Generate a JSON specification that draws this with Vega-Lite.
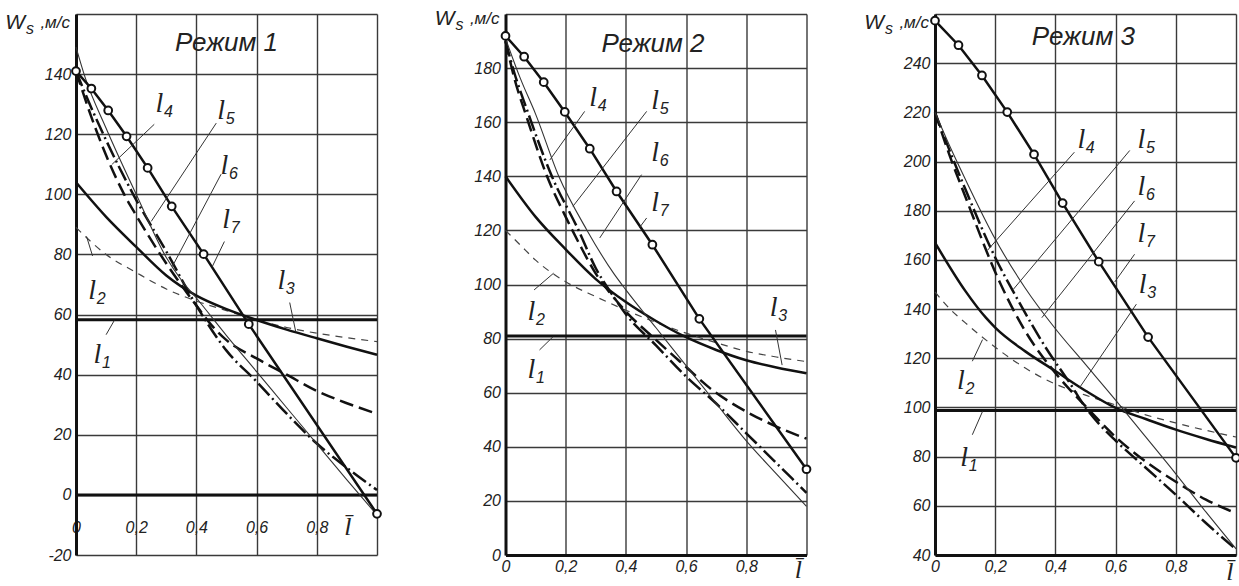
{
  "$schema": "https://vega.github.io/schema/vega-lite/v6.json",
  "background": "white",
  "padding": {"left": 5, "top": 6, "right": 0, "bottom": 0},
  "config": {"view": {"stroke": null}, "axis": {"gridOpacity": 1}},
  "datasets": {
    "curves": [
      {"p":1,"c":"l1","x":0,"v":58.3},{"p":1,"c":"l1","x":1,"v":58.3},
      {"p":1,"c":"l2","x":0,"v":89},{"p":1,"c":"l2","x":0.1,"v":80},{"p":1,"c":"l2","x":0.2,"v":74},{"p":1,"c":"l2","x":0.3,"v":68.5},{"p":1,"c":"l2","x":0.4,"v":64.5},{"p":1,"c":"l2","x":0.5,"v":61.3},{"p":1,"c":"l2","x":0.6,"v":58.2},{"p":1,"c":"l2","x":0.7,"v":55.7},{"p":1,"c":"l2","x":0.8,"v":53.8},{"p":1,"c":"l2","x":0.9,"v":52.3},{"p":1,"c":"l2","x":1,"v":51},
      {"p":1,"c":"l3","x":0,"v":104},{"p":1,"c":"l3","x":0.1,"v":92.5},{"p":1,"c":"l3","x":0.2,"v":82.5},{"p":1,"c":"l3","x":0.3,"v":73},{"p":1,"c":"l3","x":0.4,"v":66.3},{"p":1,"c":"l3","x":0.5,"v":61.8},{"p":1,"c":"l3","x":0.6,"v":58.2},{"p":1,"c":"l3","x":0.7,"v":55},{"p":1,"c":"l3","x":0.8,"v":52.1},{"p":1,"c":"l3","x":0.9,"v":49.3},{"p":1,"c":"l3","x":1,"v":46.6},
      {"p":1,"c":"l4","x":0,"v":141},{"p":1,"c":"l4","x":0.05,"v":126},{"p":1,"c":"l4","x":0.1,"v":113},{"p":1,"c":"l4","x":0.16,"v":100},{"p":1,"c":"l4","x":0.2,"v":93},{"p":1,"c":"l4","x":0.3,"v":77},{"p":1,"c":"l4","x":0.4,"v":63},{"p":1,"c":"l4","x":0.45,"v":56.5},{"p":1,"c":"l4","x":0.5,"v":51.5},{"p":1,"c":"l4","x":0.6,"v":45.4},{"p":1,"c":"l4","x":0.7,"v":40},{"p":1,"c":"l4","x":0.8,"v":34.6},{"p":1,"c":"l4","x":0.9,"v":30.5},{"p":1,"c":"l4","x":1,"v":27},
      {"p":1,"c":"l5","x":0,"v":141},{"p":1,"c":"l5","x":0.05,"v":129},{"p":1,"c":"l5","x":0.1,"v":118},{"p":1,"c":"l5","x":0.19,"v":100},{"p":1,"c":"l5","x":0.3,"v":81},{"p":1,"c":"l5","x":0.4,"v":63},{"p":1,"c":"l5","x":0.5,"v":48},{"p":1,"c":"l5","x":0.6,"v":37.7},{"p":1,"c":"l5","x":0.7,"v":27},{"p":1,"c":"l5","x":0.8,"v":17.1},{"p":1,"c":"l5","x":0.9,"v":9},{"p":1,"c":"l5","x":1,"v":1.6},
      {"p":1,"c":"l6","x":0,"v":149},{"p":1,"c":"l6","x":0.03,"v":139},{"p":1,"c":"l6","x":0.1,"v":122},{"p":1,"c":"l6","x":0.2,"v":100},{"p":1,"c":"l6","x":0.3,"v":79},{"p":1,"c":"l6","x":0.35,"v":71.5},{"p":1,"c":"l6","x":0.4,"v":65.5},{"p":1,"c":"l6","x":0.5,"v":53},{"p":1,"c":"l6","x":0.6,"v":41},{"p":1,"c":"l6","x":0.7,"v":29},{"p":1,"c":"l6","x":0.8,"v":17},{"p":1,"c":"l6","x":0.9,"v":5},{"p":1,"c":"l6","x":1,"v":-6.7},
      {"p":1,"c":"l7","x":0,"v":141},{"p":1,"c":"l7","x":0.051,"v":135.2},{"p":1,"c":"l7","x":0.107,"v":127.9},{"p":1,"c":"l7","x":0.168,"v":119.3},{"p":1,"c":"l7","x":0.238,"v":108.8},{"p":1,"c":"l7","x":0.318,"v":96},{"p":1,"c":"l7","x":0.424,"v":80.1},{"p":1,"c":"l7","x":0.574,"v":56.8},{"p":1,"c":"l7","x":1,"v":-6.3},

      {"p":2,"c":"l1","x":0,"v":81},{"p":2,"c":"l1","x":1,"v":81},
      {"p":2,"c":"l2","x":0,"v":120},{"p":2,"c":"l2","x":0.05,"v":114.5},{"p":2,"c":"l2","x":0.1,"v":109},{"p":2,"c":"l2","x":0.2,"v":101},{"p":2,"c":"l2","x":0.3,"v":95.5},{"p":2,"c":"l2","x":0.4,"v":90.5},{"p":2,"c":"l2","x":0.5,"v":86},{"p":2,"c":"l2","x":0.6,"v":82},{"p":2,"c":"l2","x":0.7,"v":78.5},{"p":2,"c":"l2","x":0.8,"v":75.3},{"p":2,"c":"l2","x":0.9,"v":73.2},{"p":2,"c":"l2","x":1,"v":71.5},
      {"p":2,"c":"l3","x":0,"v":140},{"p":2,"c":"l3","x":0.1,"v":125},{"p":2,"c":"l3","x":0.2,"v":113},{"p":2,"c":"l3","x":0.3,"v":102},{"p":2,"c":"l3","x":0.4,"v":93.5},{"p":2,"c":"l3","x":0.5,"v":86.5},{"p":2,"c":"l3","x":0.6,"v":80.5},{"p":2,"c":"l3","x":0.7,"v":75.8},{"p":2,"c":"l3","x":0.8,"v":72},{"p":2,"c":"l3","x":0.9,"v":69.3},{"p":2,"c":"l3","x":1,"v":67.2},
      {"p":2,"c":"l4","x":0,"v":190},{"p":2,"c":"l4","x":0.03,"v":176},{"p":2,"c":"l4","x":0.07,"v":162},{"p":2,"c":"l4","x":0.138,"v":140},{"p":2,"c":"l4","x":0.2,"v":125},{"p":2,"c":"l4","x":0.25,"v":114},{"p":2,"c":"l4","x":0.3,"v":104},{"p":2,"c":"l4","x":0.35,"v":96.5},{"p":2,"c":"l4","x":0.4,"v":90},{"p":2,"c":"l4","x":0.5,"v":79.5},{"p":2,"c":"l4","x":0.6,"v":69.5},{"p":2,"c":"l4","x":0.68,"v":61.6},{"p":2,"c":"l4","x":0.8,"v":53},{"p":2,"c":"l4","x":0.9,"v":47.5},{"p":2,"c":"l4","x":1,"v":43},
      {"p":2,"c":"l5","x":0,"v":190},{"p":2,"c":"l5","x":0.03,"v":178},{"p":2,"c":"l5","x":0.07,"v":165},{"p":2,"c":"l5","x":0.154,"v":140},{"p":2,"c":"l5","x":0.243,"v":120},{"p":2,"c":"l5","x":0.3,"v":106},{"p":2,"c":"l5","x":0.35,"v":97},{"p":2,"c":"l5","x":0.4,"v":89},{"p":2,"c":"l5","x":0.5,"v":77.5},{"p":2,"c":"l5","x":0.6,"v":66},{"p":2,"c":"l5","x":0.7,"v":56},{"p":2,"c":"l5","x":0.8,"v":45},{"p":2,"c":"l5","x":0.9,"v":34},{"p":2,"c":"l5","x":1,"v":23},
      {"p":2,"c":"l6","x":0,"v":191},{"p":2,"c":"l6","x":0.05,"v":176},{"p":2,"c":"l6","x":0.1,"v":163},{"p":2,"c":"l6","x":0.177,"v":140},{"p":2,"c":"l6","x":0.271,"v":120},{"p":2,"c":"l6","x":0.36,"v":104},{"p":2,"c":"l6","x":0.4,"v":98},{"p":2,"c":"l6","x":0.5,"v":84},{"p":2,"c":"l6","x":0.6,"v":70},{"p":2,"c":"l6","x":0.7,"v":56},{"p":2,"c":"l6","x":0.8,"v":42.2},{"p":2,"c":"l6","x":0.9,"v":30},{"p":2,"c":"l6","x":1,"v":18},
      {"p":2,"c":"l7","x":0,"v":191.9},{"p":2,"c":"l7","x":0.062,"v":184.2},{"p":2,"c":"l7","x":0.127,"v":174.8},{"p":2,"c":"l7","x":0.197,"v":163.8},{"p":2,"c":"l7","x":0.28,"v":150.2},{"p":2,"c":"l7","x":0.369,"v":134.4},{"p":2,"c":"l7","x":0.488,"v":114.7},{"p":2,"c":"l7","x":0.644,"v":87.3},{"p":2,"c":"l7","x":1,"v":31.7},

      {"p":3,"c":"l1","x":0,"v":98.8},{"p":3,"c":"l1","x":1,"v":98.8},
      {"p":3,"c":"l2","x":0,"v":147},{"p":3,"c":"l2","x":0.05,"v":140},{"p":3,"c":"l2","x":0.1,"v":134.5},{"p":3,"c":"l2","x":0.2,"v":124.5},{"p":3,"c":"l2","x":0.3,"v":116},{"p":3,"c":"l2","x":0.4,"v":109.5},{"p":3,"c":"l2","x":0.5,"v":105},{"p":3,"c":"l2","x":0.6,"v":101},{"p":3,"c":"l2","x":0.7,"v":97},{"p":3,"c":"l2","x":0.8,"v":93.7},{"p":3,"c":"l2","x":0.9,"v":90.7},{"p":3,"c":"l2","x":1,"v":88},
      {"p":3,"c":"l3","x":0,"v":167},{"p":3,"c":"l3","x":0.1,"v":147.5},{"p":3,"c":"l3","x":0.169,"v":136.5},{"p":3,"c":"l3","x":0.2,"v":132.5},{"p":3,"c":"l3","x":0.3,"v":122.8},{"p":3,"c":"l3","x":0.4,"v":114.8},{"p":3,"c":"l3","x":0.5,"v":106.8},{"p":3,"c":"l3","x":0.6,"v":99.8},{"p":3,"c":"l3","x":0.7,"v":95.3},{"p":3,"c":"l3","x":0.8,"v":91},{"p":3,"c":"l3","x":0.9,"v":87.2},{"p":3,"c":"l3","x":1,"v":83.7},
      {"p":3,"c":"l4","x":0,"v":220},{"p":3,"c":"l4","x":0.05,"v":202},{"p":3,"c":"l4","x":0.1,"v":186},{"p":3,"c":"l4","x":0.216,"v":150.7},{"p":3,"c":"l4","x":0.3,"v":131},{"p":3,"c":"l4","x":0.4,"v":114},{"p":3,"c":"l4","x":0.5,"v":100.5},{"p":3,"c":"l4","x":0.6,"v":88},{"p":3,"c":"l4","x":0.7,"v":78},{"p":3,"c":"l4","x":0.8,"v":69.8},{"p":3,"c":"l4","x":0.9,"v":62.5},{"p":3,"c":"l4","x":1,"v":57},
      {"p":3,"c":"l5","x":0,"v":220},{"p":3,"c":"l5","x":0.05,"v":204},{"p":3,"c":"l5","x":0.1,"v":189},{"p":3,"c":"l5","x":0.2,"v":161},{"p":3,"c":"l5","x":0.271,"v":144.7},{"p":3,"c":"l5","x":0.365,"v":124.9},{"p":3,"c":"l5","x":0.45,"v":109.5},{"p":3,"c":"l5","x":0.5,"v":100},{"p":3,"c":"l5","x":0.547,"v":93},{"p":3,"c":"l5","x":0.6,"v":86.5},{"p":3,"c":"l5","x":0.7,"v":75.5},{"p":3,"c":"l5","x":0.8,"v":64.5},{"p":3,"c":"l5","x":0.9,"v":53},{"p":3,"c":"l5","x":1,"v":42.3},
      {"p":3,"c":"l6","x":0,"v":220},{"p":3,"c":"l6","x":0.05,"v":206},{"p":3,"c":"l6","x":0.1,"v":193},{"p":3,"c":"l6","x":0.2,"v":168.5},{"p":3,"c":"l6","x":0.3,"v":148.5},{"p":3,"c":"l6","x":0.4,"v":132},{"p":3,"c":"l6","x":0.5,"v":117.5},{"p":3,"c":"l6","x":0.6,"v":103},{"p":3,"c":"l6","x":0.7,"v":88},{"p":3,"c":"l6","x":0.8,"v":73},{"p":3,"c":"l6","x":0.9,"v":57.5},{"p":3,"c":"l6","x":1,"v":42.5},
      {"p":3,"c":"l7","x":0,"v":257.3},{"p":3,"c":"l7","x":0.078,"v":247.3},{"p":3,"c":"l7","x":0.156,"v":235},{"p":3,"c":"l7","x":0.24,"v":220.1},{"p":3,"c":"l7","x":0.329,"v":202.9},{"p":3,"c":"l7","x":0.424,"v":183.1},{"p":3,"c":"l7","x":0.544,"v":159.3},{"p":3,"c":"l7","x":0.708,"v":128.6},{"p":3,"c":"l7","x":1,"v":79.5}
    ],
    "lbl": [
      {"p":1,"n":"4","x":0.277,"v":129.9},{"p":1,"n":"5","x":0.482,"v":127.7},{"p":1,"n":"6","x":0.493,"v":109.3},{"p":1,"n":"7","x":0.499,"v":91.6},{"p":1,"n":"3","x":0.682,"v":71},{"p":1,"n":"2","x":0.054,"v":67.7},{"p":1,"n":"1","x":0.071,"v":46.6},
      {"p":2,"n":"4","x":0.291,"v":169},{"p":2,"n":"5","x":0.497,"v":167.8},{"p":2,"n":"6","x":0.497,"v":148.6},{"p":2,"n":"7","x":0.497,"v":130.1},{"p":2,"n":"3","x":0.891,"v":91.2},{"p":2,"n":"2","x":0.086,"v":90},{"p":2,"n":"1","x":0.086,"v":68.4},
      {"p":3,"n":"4","x":0.486,"v":208.6},{"p":3,"n":"5","x":0.686,"v":208.6},{"p":3,"n":"6","x":0.686,"v":189.5},{"p":3,"n":"7","x":0.686,"v":170.5},{"p":3,"n":"3","x":0.69,"v":150},{"p":3,"n":"2","x":0.086,"v":110.6},{"p":3,"n":"1","x":0.097,"v":79.3}
    ],
    "ldr": [
      {"p":1,"x":0.26,"v":123.3,"x2":0.12,"v2":110},{"p":1,"x":0.466,"v":123.7,"x2":0.25,"v2":91},{"p":1,"x":0.482,"v":106.7,"x2":0.32,"v2":76},{"p":1,"x":0.493,"v":84.3,"x2":0.453,"v2":76},{"p":1,"x":0.71,"v":64,"x2":0.73,"v2":54.3},{"p":1,"x":0.055,"v":79.5,"x2":0.035,"v2":86},{"p":1,"x":0.1,"v":53.3,"x2":0.127,"v2":58},
      {"p":2,"x":0.263,"v":164,"x2":0.147,"v2":146},{"p":2,"x":0.469,"v":164,"x2":0.224,"v2":128.9},{"p":2,"x":0.452,"v":140.6,"x2":0.313,"v2":117.2},{"p":2,"x":0.469,"v":124.6,"x2":0.445,"v2":121},{"p":2,"x":0.897,"v":83.2,"x2":0.919,"v2":70.2},{"p":2,"x":0.095,"v":98,"x2":0.16,"v2":104.2},{"p":2,"x":0.113,"v":75.8,"x2":0.158,"v2":80.7},
      {"p":3,"x":0.463,"v":203.8,"x2":0.175,"v2":164},{"p":3,"x":0.647,"v":204.5,"x2":0.26,"v2":148},{"p":3,"x":0.663,"v":184,"x2":0.355,"v2":136.5},{"p":3,"x":0.663,"v":162.3,"x2":0.597,"v2":151},{"p":3,"x":0.669,"v":142,"x2":0.48,"v2":108},{"p":3,"x":0.124,"v":118.8,"x2":0.158,"v2":127.6},{"p":3,"x":0.124,"v":88.9,"x2":0.158,"v2":98.4}
    ],
    "ttl": [
      {"p":1,"t":"Режим 1","x":0.5,"v":150.3},{"p":2,"t":"Режим 2","x":0.49,"v":189},{"p":3,"t":"Режим 3","x":0.493,"v":250.7}
    ],
    "wl": [
      {"p":1,"x":0,"v":157},{"p":2,"x":0,"v":198},{"p":3,"x":0,"v":256.5}
    ],
    "lb": [
      {"p":1,"x":0.903,"v":-10.7},{"p":2,"x":0.973,"v":-5.6},{"p":3,"x":0.98,"v":33}
    ]
  },
  "hconcat": [
    {
      "width": 301, "height": 541,
      "layer": [
        {"data": {"name": "curves"}, "transform": [{"filter": "datum.p == 1 && datum.c == 'l1'"}],
         "mark": {"type": "line", "strokeWidth": 3, "color": "#111"},
         "encoding": {
           "x": {"field": "x", "type": "quantitative", "scale": {"domain": [0, 1], "nice": false, "zero": false},
                 "axis": {"values": [0, 0.2, 0.4, 0.6, 0.8, 1], "grid": true, "gridColor": "#3a3a3a", "gridWidth": 1.4, "domain": false, "ticks": false, "offset": -38, "labelFlush": false, "labelOverlap": false, "labelBound": false, "labelPadding": 2, "labelFont": "Liberation Sans", "labelFontStyle": "italic", "labelFontSize": 16, "labelColor": "#222", "labelExpr": "datum.value == 1 ? '' : datum.value == 0 ? '0' : replace(format(datum.value, '.1f'), '.', ',')", "title": null}},
           "y": {"field": "v", "type": "quantitative", "scale": {"domain": [-20, 160], "nice": false, "zero": false},
                 "axis": {"values": [-20, 0, 20, 40, 60, 80, 100, 120, 140, 160], "grid": true, "gridColor": "#3a3a3a", "gridWidth": 1.4, "domain": true, "domainColor": "#111", "domainWidth": 3, "ticks": false, "labelPadding": 5, "labelOverlap": false, "labelFont": "Liberation Sans", "labelFontStyle": "italic", "labelFontSize": 16, "labelColor": "#222", "labelExpr": "datum.value >= 160 ? '' : replace(datum.label, '−', '-')", "title": null}}
         }},
        {"data": {"values": [{}]}, "mark": {"type": "rule", "strokeWidth": 3, "color": "#111"},
         "encoding": {"y": {"datum": 0, "type": "quantitative", "scale": {"domain": [-20, 160], "nice": false, "zero": false}}}},
        {"data": {"name": "curves"}, "transform": [{"filter": "datum.p == 1 && datum.c == 'l2'"}],
         "mark": {"type": "line", "strokeWidth": 1.2, "color": "#444", "strokeDash": [7, 6], "interpolate": "monotone"},
         "encoding": {"x": {"field": "x", "type": "quantitative", "scale": {"domain": [0, 1], "nice": false, "zero": false}}, "y": {"field": "v", "type": "quantitative", "scale": {"domain": [-20, 160], "nice": false, "zero": false}}}},
        {"data": {"name": "curves"}, "transform": [{"filter": "datum.p == 1 && datum.c == 'l3'"}],
         "mark": {"type": "line", "strokeWidth": 2.5, "color": "#111", "interpolate": "monotone"},
         "encoding": {"x": {"field": "x", "type": "quantitative", "scale": {"domain": [0, 1], "nice": false, "zero": false}}, "y": {"field": "v", "type": "quantitative", "scale": {"domain": [-20, 160], "nice": false, "zero": false}}}},
        {"data": {"name": "curves"}, "transform": [{"filter": "datum.p == 1 && datum.c == 'l4'"}],
         "mark": {"type": "line", "strokeWidth": 2.5, "color": "#111", "strokeDash": [14, 6], "interpolate": "monotone"},
         "encoding": {"x": {"field": "x", "type": "quantitative", "scale": {"domain": [0, 1], "nice": false, "zero": false}}, "y": {"field": "v", "type": "quantitative", "scale": {"domain": [-20, 160], "nice": false, "zero": false}}}},
        {"data": {"name": "curves"}, "transform": [{"filter": "datum.p == 1 && datum.c == 'l5'"}],
         "mark": {"type": "line", "strokeWidth": 2.5, "color": "#111", "strokeDash": [16, 4, 2, 4], "interpolate": "monotone"},
         "encoding": {"x": {"field": "x", "type": "quantitative", "scale": {"domain": [0, 1], "nice": false, "zero": false}}, "y": {"field": "v", "type": "quantitative", "scale": {"domain": [-20, 160], "nice": false, "zero": false}}}},
        {"data": {"name": "curves"}, "transform": [{"filter": "datum.p == 1 && datum.c == 'l6'"}],
         "mark": {"type": "line", "strokeWidth": 1.1, "color": "#333", "interpolate": "monotone"},
         "encoding": {"x": {"field": "x", "type": "quantitative", "scale": {"domain": [0, 1], "nice": false, "zero": false}}, "y": {"field": "v", "type": "quantitative", "scale": {"domain": [-20, 160], "nice": false, "zero": false}}}},
        {"data": {"name": "curves"}, "transform": [{"filter": "datum.p == 1 && datum.c == 'l7'"}],
         "mark": {"type": "line", "strokeWidth": 2.5, "color": "#111"},
         "encoding": {"x": {"field": "x", "type": "quantitative", "scale": {"domain": [0, 1], "nice": false, "zero": false}}, "y": {"field": "v", "type": "quantitative", "scale": {"domain": [-20, 160], "nice": false, "zero": false}}}},
        {"data": {"name": "ldr"}, "transform": [{"filter": "datum.p == 1"}],
         "mark": {"type": "rule", "strokeWidth": 1, "color": "#333"},
         "encoding": {"x": {"field": "x", "type": "quantitative", "scale": {"domain": [0, 1], "nice": false, "zero": false}}, "y": {"field": "v", "type": "quantitative", "scale": {"domain": [-20, 160], "nice": false, "zero": false}}, "x2": {"field": "x2"}, "y2": {"field": "v2"}}},
        {"data": {"name": "curves"}, "transform": [{"filter": "datum.p == 1 && datum.c == 'l7'"}],
         "mark": {"type": "point", "filled": true, "fill": "white", "stroke": "#111", "strokeWidth": 2, "size": 60, "opacity": 1},
         "encoding": {"x": {"field": "x", "type": "quantitative", "scale": {"domain": [0, 1], "nice": false, "zero": false}}, "y": {"field": "v", "type": "quantitative", "scale": {"domain": [-20, 160], "nice": false, "zero": false}}}},
        {"data": {"name": "lbl"}, "transform": [{"filter": "datum.p == 1"}],
         "mark": {"type": "text", "text": "l", "font": "Liberation Serif", "fontStyle": "italic", "fontSize": 28, "color": "#222", "baseline": "middle"},
         "encoding": {"x": {"field": "x", "type": "quantitative", "scale": {"domain": [0, 1], "nice": false, "zero": false}}, "y": {"field": "v", "type": "quantitative", "scale": {"domain": [-20, 160], "nice": false, "zero": false}}}},
        {"data": {"name": "lbl"}, "transform": [{"filter": "datum.p == 1"}],
         "mark": {"type": "text", "font": "Liberation Sans", "fontStyle": "italic", "fontSize": 16, "color": "#222", "baseline": "middle", "dx": 9, "dy": 8},
         "encoding": {"x": {"field": "x", "type": "quantitative", "scale": {"domain": [0, 1], "nice": false, "zero": false}}, "y": {"field": "v", "type": "quantitative", "scale": {"domain": [-20, 160], "nice": false, "zero": false}}, "text": {"field": "n"}}},
        {"data": {"name": "ttl"}, "transform": [{"filter": "datum.p == 1"}],
         "mark": {"type": "text", "font": "Liberation Sans", "fontStyle": "italic", "fontSize": 26, "color": "#222", "baseline": "middle"},
         "encoding": {"x": {"field": "x", "type": "quantitative", "scale": {"domain": [0, 1], "nice": false, "zero": false}}, "y": {"field": "v", "type": "quantitative", "scale": {"domain": [-20, 160], "nice": false, "zero": false}}, "text": {"field": "t"}}},
        {"data": {"name": "wl"}, "transform": [{"filter": "datum.p == 1"}],
         "mark": {"type": "text", "text": "W", "font": "Liberation Sans", "fontStyle": "italic", "fontSize": 21, "color": "#222", "baseline": "middle", "align": "right", "dx": -51},
         "encoding": {"x": {"field": "x", "type": "quantitative", "scale": {"domain": [0, 1], "nice": false, "zero": false}}, "y": {"field": "v", "type": "quantitative", "scale": {"domain": [-20, 160], "nice": false, "zero": false}}}},
        {"data": {"name": "wl"}, "transform": [{"filter": "datum.p == 1"}],
         "mark": {"type": "text", "text": "s", "font": "Liberation Sans", "fontStyle": "italic", "fontSize": 16, "color": "#222", "baseline": "middle", "align": "right", "dx": -42, "dy": 6},
         "encoding": {"x": {"field": "x", "type": "quantitative", "scale": {"domain": [0, 1], "nice": false, "zero": false}}, "y": {"field": "v", "type": "quantitative", "scale": {"domain": [-20, 160], "nice": false, "zero": false}}}},
        {"data": {"name": "wl"}, "transform": [{"filter": "datum.p == 1"}],
         "mark": {"type": "text", "text": ",м/с", "font": "Liberation Sans", "fontStyle": "italic", "fontSize": 17, "color": "#222", "baseline": "middle", "align": "right", "dx": -6, "dy": 0},
         "encoding": {"x": {"field": "x", "type": "quantitative", "scale": {"domain": [0, 1], "nice": false, "zero": false}}, "y": {"field": "v", "type": "quantitative", "scale": {"domain": [-20, 160], "nice": false, "zero": false}}}},
        {"data": {"name": "lb"}, "transform": [{"filter": "datum.p == 1"}],
         "mark": {"type": "text", "text": "l̄", "font": "Liberation Serif", "fontStyle": "italic", "fontSize": 26, "color": "#222", "baseline": "middle"},
         "encoding": {"x": {"field": "x", "type": "quantitative", "scale": {"domain": [0, 1], "nice": false, "zero": false}}, "y": {"field": "v", "type": "quantitative", "scale": {"domain": [-20, 160], "nice": false, "zero": false}}}}
      ]
    },
    {
      "width": 301, "height": 541,
      "layer": [
        {"data": {"name": "curves"}, "transform": [{"filter": "datum.p == 2 && datum.c == 'l1'"}],
         "mark": {"type": "line", "strokeWidth": 3, "color": "#111"},
         "encoding": {
           "x": {"field": "x", "type": "quantitative", "scale": {"domain": [0, 1], "nice": false, "zero": false},
                 "axis": {"values": [0, 0.2, 0.4, 0.6, 0.8, 1], "grid": true, "gridColor": "#3a3a3a", "gridWidth": 1.4, "domain": true, "domainColor": "#111", "domainWidth": 3, "ticks": false, "labelFlush": false, "labelOverlap": false, "labelBound": false, "labelPadding": 3, "labelFont": "Liberation Sans", "labelFontStyle": "italic", "labelFontSize": 16, "labelColor": "#222", "labelExpr": "datum.value == 1 ? '' : datum.value == 0 ? '0' : replace(format(datum.value, '.1f'), '.', ',')", "title": null}},
           "y": {"field": "v", "type": "quantitative", "scale": {"domain": [0, 200], "nice": false, "zero": false},
                 "axis": {"values": [0, 20, 40, 60, 80, 100, 120, 140, 160, 180, 200], "grid": true, "gridColor": "#3a3a3a", "gridWidth": 1.4, "domain": true, "domainColor": "#111", "domainWidth": 3, "ticks": false, "labelPadding": 5, "labelOverlap": false, "labelFont": "Liberation Sans", "labelFontStyle": "italic", "labelFontSize": 16, "labelColor": "#222", "labelExpr": "datum.value >= 200 ? '' : datum.label", "title": null}}
         }},
        {"data": {"name": "curves"}, "transform": [{"filter": "datum.p == 2 && datum.c == 'l2'"}],
         "mark": {"type": "line", "strokeWidth": 1.2, "color": "#444", "strokeDash": [7, 6], "interpolate": "monotone"},
         "encoding": {"x": {"field": "x", "type": "quantitative", "scale": {"domain": [0, 1], "nice": false, "zero": false}}, "y": {"field": "v", "type": "quantitative", "scale": {"domain": [0, 200], "nice": false, "zero": false}}}},
        {"data": {"name": "curves"}, "transform": [{"filter": "datum.p == 2 && datum.c == 'l3'"}],
         "mark": {"type": "line", "strokeWidth": 2.5, "color": "#111", "interpolate": "monotone"},
         "encoding": {"x": {"field": "x", "type": "quantitative", "scale": {"domain": [0, 1], "nice": false, "zero": false}}, "y": {"field": "v", "type": "quantitative", "scale": {"domain": [0, 200], "nice": false, "zero": false}}}},
        {"data": {"name": "curves"}, "transform": [{"filter": "datum.p == 2 && datum.c == 'l4'"}],
         "mark": {"type": "line", "strokeWidth": 2.5, "color": "#111", "strokeDash": [14, 6], "interpolate": "monotone"},
         "encoding": {"x": {"field": "x", "type": "quantitative", "scale": {"domain": [0, 1], "nice": false, "zero": false}}, "y": {"field": "v", "type": "quantitative", "scale": {"domain": [0, 200], "nice": false, "zero": false}}}},
        {"data": {"name": "curves"}, "transform": [{"filter": "datum.p == 2 && datum.c == 'l5'"}],
         "mark": {"type": "line", "strokeWidth": 2.5, "color": "#111", "strokeDash": [16, 4, 2, 4], "interpolate": "monotone"},
         "encoding": {"x": {"field": "x", "type": "quantitative", "scale": {"domain": [0, 1], "nice": false, "zero": false}}, "y": {"field": "v", "type": "quantitative", "scale": {"domain": [0, 200], "nice": false, "zero": false}}}},
        {"data": {"name": "curves"}, "transform": [{"filter": "datum.p == 2 && datum.c == 'l6'"}],
         "mark": {"type": "line", "strokeWidth": 1.1, "color": "#333", "interpolate": "monotone"},
         "encoding": {"x": {"field": "x", "type": "quantitative", "scale": {"domain": [0, 1], "nice": false, "zero": false}}, "y": {"field": "v", "type": "quantitative", "scale": {"domain": [0, 200], "nice": false, "zero": false}}}},
        {"data": {"name": "curves"}, "transform": [{"filter": "datum.p == 2 && datum.c == 'l7'"}],
         "mark": {"type": "line", "strokeWidth": 2.5, "color": "#111"},
         "encoding": {"x": {"field": "x", "type": "quantitative", "scale": {"domain": [0, 1], "nice": false, "zero": false}}, "y": {"field": "v", "type": "quantitative", "scale": {"domain": [0, 200], "nice": false, "zero": false}}}},
        {"data": {"name": "ldr"}, "transform": [{"filter": "datum.p == 2"}],
         "mark": {"type": "rule", "strokeWidth": 1, "color": "#333"},
         "encoding": {"x": {"field": "x", "type": "quantitative", "scale": {"domain": [0, 1], "nice": false, "zero": false}}, "y": {"field": "v", "type": "quantitative", "scale": {"domain": [0, 200], "nice": false, "zero": false}}, "x2": {"field": "x2"}, "y2": {"field": "v2"}}},
        {"data": {"name": "curves"}, "transform": [{"filter": "datum.p == 2 && datum.c == 'l7'"}],
         "mark": {"type": "point", "filled": true, "fill": "white", "stroke": "#111", "strokeWidth": 2, "size": 60, "opacity": 1},
         "encoding": {"x": {"field": "x", "type": "quantitative", "scale": {"domain": [0, 1], "nice": false, "zero": false}}, "y": {"field": "v", "type": "quantitative", "scale": {"domain": [0, 200], "nice": false, "zero": false}}}},
        {"data": {"name": "lbl"}, "transform": [{"filter": "datum.p == 2"}],
         "mark": {"type": "text", "text": "l", "font": "Liberation Serif", "fontStyle": "italic", "fontSize": 28, "color": "#222", "baseline": "middle"},
         "encoding": {"x": {"field": "x", "type": "quantitative", "scale": {"domain": [0, 1], "nice": false, "zero": false}}, "y": {"field": "v", "type": "quantitative", "scale": {"domain": [0, 200], "nice": false, "zero": false}}}},
        {"data": {"name": "lbl"}, "transform": [{"filter": "datum.p == 2"}],
         "mark": {"type": "text", "font": "Liberation Sans", "fontStyle": "italic", "fontSize": 16, "color": "#222", "baseline": "middle", "dx": 9, "dy": 8},
         "encoding": {"x": {"field": "x", "type": "quantitative", "scale": {"domain": [0, 1], "nice": false, "zero": false}}, "y": {"field": "v", "type": "quantitative", "scale": {"domain": [0, 200], "nice": false, "zero": false}}, "text": {"field": "n"}}},
        {"data": {"name": "ttl"}, "transform": [{"filter": "datum.p == 2"}],
         "mark": {"type": "text", "font": "Liberation Sans", "fontStyle": "italic", "fontSize": 26, "color": "#222", "baseline": "middle"},
         "encoding": {"x": {"field": "x", "type": "quantitative", "scale": {"domain": [0, 1], "nice": false, "zero": false}}, "y": {"field": "v", "type": "quantitative", "scale": {"domain": [0, 200], "nice": false, "zero": false}}, "text": {"field": "t"}}},
        {"data": {"name": "wl"}, "transform": [{"filter": "datum.p == 2"}],
         "mark": {"type": "text", "text": "W", "font": "Liberation Sans", "fontStyle": "italic", "fontSize": 21, "color": "#222", "baseline": "middle", "align": "right", "dx": -51},
         "encoding": {"x": {"field": "x", "type": "quantitative", "scale": {"domain": [0, 1], "nice": false, "zero": false}}, "y": {"field": "v", "type": "quantitative", "scale": {"domain": [0, 200], "nice": false, "zero": false}}}},
        {"data": {"name": "wl"}, "transform": [{"filter": "datum.p == 2"}],
         "mark": {"type": "text", "text": "s", "font": "Liberation Sans", "fontStyle": "italic", "fontSize": 16, "color": "#222", "baseline": "middle", "align": "right", "dx": -42, "dy": 6},
         "encoding": {"x": {"field": "x", "type": "quantitative", "scale": {"domain": [0, 1], "nice": false, "zero": false}}, "y": {"field": "v", "type": "quantitative", "scale": {"domain": [0, 200], "nice": false, "zero": false}}}},
        {"data": {"name": "wl"}, "transform": [{"filter": "datum.p == 2"}],
         "mark": {"type": "text", "text": ",м/с", "font": "Liberation Sans", "fontStyle": "italic", "fontSize": 17, "color": "#222", "baseline": "middle", "align": "right", "dx": -6, "dy": 0},
         "encoding": {"x": {"field": "x", "type": "quantitative", "scale": {"domain": [0, 1], "nice": false, "zero": false}}, "y": {"field": "v", "type": "quantitative", "scale": {"domain": [0, 200], "nice": false, "zero": false}}}},
        {"data": {"name": "lb"}, "transform": [{"filter": "datum.p == 2"}],
         "mark": {"type": "text", "text": "l̄", "font": "Liberation Serif", "fontStyle": "italic", "fontSize": 26, "color": "#222", "baseline": "middle"},
         "encoding": {"x": {"field": "x", "type": "quantitative", "scale": {"domain": [0, 1], "nice": false, "zero": false}}, "y": {"field": "v", "type": "quantitative", "scale": {"domain": [0, 200], "nice": false, "zero": false}}}}
      ]
    },
    {
      "width": 301, "height": 541,
      "layer": [
        {"data": {"name": "curves"}, "transform": [{"filter": "datum.p == 3 && datum.c == 'l1'"}],
         "mark": {"type": "line", "strokeWidth": 3, "color": "#111"},
         "encoding": {
           "x": {"field": "x", "type": "quantitative", "scale": {"domain": [0, 1], "nice": false, "zero": false},
                 "axis": {"values": [0, 0.2, 0.4, 0.6, 0.8, 1], "grid": true, "gridColor": "#3a3a3a", "gridWidth": 1.4, "domain": true, "domainColor": "#111", "domainWidth": 3, "ticks": false, "labelFlush": false, "labelOverlap": false, "labelBound": false, "labelPadding": 3, "labelFont": "Liberation Sans", "labelFontStyle": "italic", "labelFontSize": 16, "labelColor": "#222", "labelExpr": "datum.value == 1 ? '' : datum.value == 0 ? '0' : replace(format(datum.value, '.1f'), '.', ',')", "title": null}},
           "y": {"field": "v", "type": "quantitative", "scale": {"domain": [40, 260], "nice": false, "zero": false},
                 "axis": {"values": [40, 60, 80, 100, 120, 140, 160, 180, 200, 220, 240, 260], "grid": true, "gridColor": "#3a3a3a", "gridWidth": 1.4, "domain": true, "domainColor": "#111", "domainWidth": 3, "ticks": false, "labelPadding": 5, "labelOverlap": false, "labelFont": "Liberation Sans", "labelFontStyle": "italic", "labelFontSize": 16, "labelColor": "#222", "labelExpr": "datum.value >= 260 ? '' : datum.label", "title": null}}
         }},
        {"data": {"name": "curves"}, "transform": [{"filter": "datum.p == 3 && datum.c == 'l2'"}],
         "mark": {"type": "line", "strokeWidth": 1.2, "color": "#444", "strokeDash": [7, 6], "interpolate": "monotone"},
         "encoding": {"x": {"field": "x", "type": "quantitative", "scale": {"domain": [0, 1], "nice": false, "zero": false}}, "y": {"field": "v", "type": "quantitative", "scale": {"domain": [40, 260], "nice": false, "zero": false}}}},
        {"data": {"name": "curves"}, "transform": [{"filter": "datum.p == 3 && datum.c == 'l3'"}],
         "mark": {"type": "line", "strokeWidth": 2.5, "color": "#111", "interpolate": "monotone"},
         "encoding": {"x": {"field": "x", "type": "quantitative", "scale": {"domain": [0, 1], "nice": false, "zero": false}}, "y": {"field": "v", "type": "quantitative", "scale": {"domain": [40, 260], "nice": false, "zero": false}}}},
        {"data": {"name": "curves"}, "transform": [{"filter": "datum.p == 3 && datum.c == 'l4'"}],
         "mark": {"type": "line", "strokeWidth": 2.5, "color": "#111", "strokeDash": [14, 6], "interpolate": "monotone"},
         "encoding": {"x": {"field": "x", "type": "quantitative", "scale": {"domain": [0, 1], "nice": false, "zero": false}}, "y": {"field": "v", "type": "quantitative", "scale": {"domain": [40, 260], "nice": false, "zero": false}}}},
        {"data": {"name": "curves"}, "transform": [{"filter": "datum.p == 3 && datum.c == 'l5'"}],
         "mark": {"type": "line", "strokeWidth": 2.5, "color": "#111", "strokeDash": [16, 4, 2, 4], "interpolate": "monotone"},
         "encoding": {"x": {"field": "x", "type": "quantitative", "scale": {"domain": [0, 1], "nice": false, "zero": false}}, "y": {"field": "v", "type": "quantitative", "scale": {"domain": [40, 260], "nice": false, "zero": false}}}},
        {"data": {"name": "curves"}, "transform": [{"filter": "datum.p == 3 && datum.c == 'l6'"}],
         "mark": {"type": "line", "strokeWidth": 1.1, "color": "#333", "interpolate": "monotone"},
         "encoding": {"x": {"field": "x", "type": "quantitative", "scale": {"domain": [0, 1], "nice": false, "zero": false}}, "y": {"field": "v", "type": "quantitative", "scale": {"domain": [40, 260], "nice": false, "zero": false}}}},
        {"data": {"name": "curves"}, "transform": [{"filter": "datum.p == 3 && datum.c == 'l7'"}],
         "mark": {"type": "line", "strokeWidth": 2.5, "color": "#111"},
         "encoding": {"x": {"field": "x", "type": "quantitative", "scale": {"domain": [0, 1], "nice": false, "zero": false}}, "y": {"field": "v", "type": "quantitative", "scale": {"domain": [40, 260], "nice": false, "zero": false}}}},
        {"data": {"name": "ldr"}, "transform": [{"filter": "datum.p == 3"}],
         "mark": {"type": "rule", "strokeWidth": 1, "color": "#333"},
         "encoding": {"x": {"field": "x", "type": "quantitative", "scale": {"domain": [0, 1], "nice": false, "zero": false}}, "y": {"field": "v", "type": "quantitative", "scale": {"domain": [40, 260], "nice": false, "zero": false}}, "x2": {"field": "x2"}, "y2": {"field": "v2"}}},
        {"data": {"name": "curves"}, "transform": [{"filter": "datum.p == 3 && datum.c == 'l7'"}],
         "mark": {"type": "point", "filled": true, "fill": "white", "stroke": "#111", "strokeWidth": 2, "size": 60, "opacity": 1},
         "encoding": {"x": {"field": "x", "type": "quantitative", "scale": {"domain": [0, 1], "nice": false, "zero": false}}, "y": {"field": "v", "type": "quantitative", "scale": {"domain": [40, 260], "nice": false, "zero": false}}}},
        {"data": {"name": "lbl"}, "transform": [{"filter": "datum.p == 3"}],
         "mark": {"type": "text", "text": "l", "font": "Liberation Serif", "fontStyle": "italic", "fontSize": 28, "color": "#222", "baseline": "middle"},
         "encoding": {"x": {"field": "x", "type": "quantitative", "scale": {"domain": [0, 1], "nice": false, "zero": false}}, "y": {"field": "v", "type": "quantitative", "scale": {"domain": [40, 260], "nice": false, "zero": false}}}},
        {"data": {"name": "lbl"}, "transform": [{"filter": "datum.p == 3"}],
         "mark": {"type": "text", "font": "Liberation Sans", "fontStyle": "italic", "fontSize": 16, "color": "#222", "baseline": "middle", "dx": 9, "dy": 8},
         "encoding": {"x": {"field": "x", "type": "quantitative", "scale": {"domain": [0, 1], "nice": false, "zero": false}}, "y": {"field": "v", "type": "quantitative", "scale": {"domain": [40, 260], "nice": false, "zero": false}}, "text": {"field": "n"}}},
        {"data": {"name": "ttl"}, "transform": [{"filter": "datum.p == 3"}],
         "mark": {"type": "text", "font": "Liberation Sans", "fontStyle": "italic", "fontSize": 26, "color": "#222", "baseline": "middle"},
         "encoding": {"x": {"field": "x", "type": "quantitative", "scale": {"domain": [0, 1], "nice": false, "zero": false}}, "y": {"field": "v", "type": "quantitative", "scale": {"domain": [40, 260], "nice": false, "zero": false}}, "text": {"field": "t"}}},
        {"data": {"name": "wl"}, "transform": [{"filter": "datum.p == 3"}],
         "mark": {"type": "text", "text": "W", "font": "Liberation Sans", "fontStyle": "italic", "fontSize": 21, "color": "#222", "baseline": "middle", "align": "right", "dx": -51},
         "encoding": {"x": {"field": "x", "type": "quantitative", "scale": {"domain": [0, 1], "nice": false, "zero": false}}, "y": {"field": "v", "type": "quantitative", "scale": {"domain": [40, 260], "nice": false, "zero": false}}}},
        {"data": {"name": "wl"}, "transform": [{"filter": "datum.p == 3"}],
         "mark": {"type": "text", "text": "s", "font": "Liberation Sans", "fontStyle": "italic", "fontSize": 16, "color": "#222", "baseline": "middle", "align": "right", "dx": -42, "dy": 6},
         "encoding": {"x": {"field": "x", "type": "quantitative", "scale": {"domain": [0, 1], "nice": false, "zero": false}}, "y": {"field": "v", "type": "quantitative", "scale": {"domain": [40, 260], "nice": false, "zero": false}}}},
        {"data": {"name": "wl"}, "transform": [{"filter": "datum.p == 3"}],
         "mark": {"type": "text", "text": ",м/с", "font": "Liberation Sans", "fontStyle": "italic", "fontSize": 17, "color": "#222", "baseline": "middle", "align": "right", "dx": -6, "dy": 0},
         "encoding": {"x": {"field": "x", "type": "quantitative", "scale": {"domain": [0, 1], "nice": false, "zero": false}}, "y": {"field": "v", "type": "quantitative", "scale": {"domain": [40, 260], "nice": false, "zero": false}}}},
        {"data": {"name": "lb"}, "transform": [{"filter": "datum.p == 3"}],
         "mark": {"type": "text", "text": "l̄", "font": "Liberation Serif", "fontStyle": "italic", "fontSize": 26, "color": "#222", "baseline": "middle"},
         "encoding": {"x": {"field": "x", "type": "quantitative", "scale": {"domain": [0, 1], "nice": false, "zero": false}}, "y": {"field": "v", "type": "quantitative", "scale": {"domain": [40, 260], "nice": false, "zero": false}}}}
      ]
    }
  ],
  "spacing": 128.5,
  "bounds": "flush"
}
